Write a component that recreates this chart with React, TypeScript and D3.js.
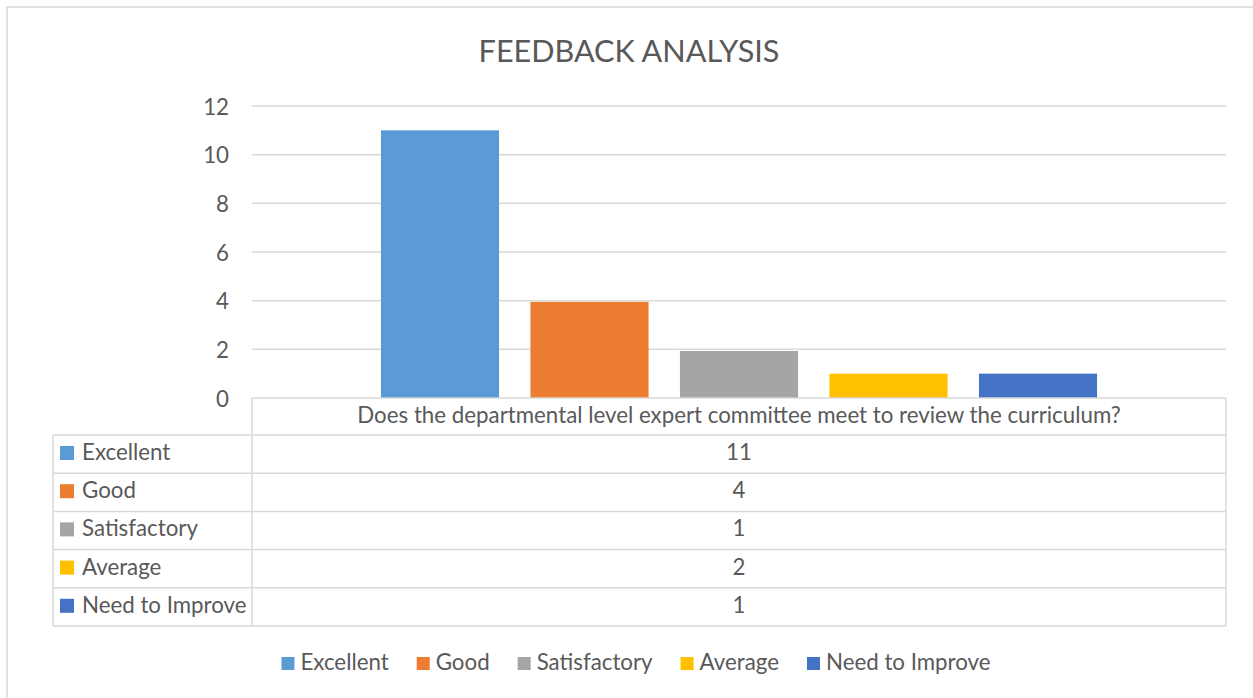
import React, { useEffect, useRef } from 'react';
import * as d3 from 'd3';

const title = 'FEEDBACK ANALYSIS';
const question = 'Does the departmental level expert committee meet to review the curriculum?';
const categories = ['Excellent', 'Good', 'Satisfactory', 'Average', 'Need to Improve'];
// bar heights as drawn in the chart
const barValues = [11, 3.95, 1.93, 1.0, 1.0];
// numbers printed in the data table (they differ from the bars in the original)
const tableValues = ['11', '4', '1', '2', '1'];
const colors = ['#5B9BD5', '#ED7D31', '#A5A5A5', '#FFC000', '#4472C4'];
const yTicks = [0, 2, 4, 6, 8, 10, 12];

const FONT = 'Lato, "Open Sans", sans-serif';
const FS = '22.3px';
const TEXT = '#595959';
const GRID = '#d9d9d9';

const App = () => {
  const svgRef = useRef<SVGSVGElement>(null);

  useEffect(() => {
    const W = 1253;
    const H = 698;
    const svg = d3.select(svgRef.current);
    svg.selectAll('*').remove();
    svg.attr('width', W).attr('height', H);

    const plot = { left: 252, right: 1226, top: 106, bottom: 398 };
    const tableLeft = 53;
    const headerH = 37;
    const rowH = 38.2;

    // outer chart border
    svg.append('rect')
      .attr('x', 7).attr('y', 7)
      .attr('width', W + 20).attr('height', H + 20)
      .attr('fill', '#fff').attr('stroke', GRID).attr('stroke-width', 1.5);

    svg.append('text')
      .attr('x', 629).attr('y', 62)
      .attr('text-anchor', 'middle')
      .style('font-family', FONT).style('font-size', '30.6px')
      .attr('fill', TEXT)
      .text(title);

    const y = d3.scaleLinear().domain([0, 12]).range([plot.bottom, plot.top]);

    // gridlines
    svg.append('g').selectAll('line')
      .data(yTicks.filter(t => t > 0))
      .join('line')
      .attr('x1', plot.left).attr('x2', plot.right)
      .attr('y1', d => y(d)).attr('y2', d => y(d))
      .attr('stroke', GRID).attr('stroke-width', 1.5);

    // tick labels
    svg.append('g').selectAll('text')
      .data(yTicks)
      .join('text')
      .attr('x', 229).attr('y', d => y(d) + 8.5)
      .attr('text-anchor', 'end')
      .style('font-family', FONT).style('font-size', FS)
      .attr('fill', TEXT)
      .text(d => d);

    // one category holding five series
    const x = d3.scaleBand()
      .domain(categories)
      .range([plot.left, plot.right])
      .paddingInner(0.21).paddingOuter(0.8625);

    svg.append('g').selectAll('rect')
      .data(categories)
      .join('rect')
      .attr('x', d => x(d)!)
      .attr('y', (d, i) => y(barValues[i]))
      .attr('width', x.bandwidth())
      .attr('height', (d, i) => y(0) - y(barValues[i]))
      .attr('fill', (d, i) => colors[i]);

    // data table
    const table = svg.append('g');
    const tableBottom = plot.bottom + headerH + rowH * categories.length;
    const line = (x1: number, y1: number, x2: number, y2: number) =>
      table.append('line')
        .attr('x1', x1).attr('y1', y1).attr('x2', x2).attr('y2', y2)
        .attr('stroke', GRID).attr('stroke-width', 1.5);

    line(plot.left, plot.bottom, plot.right, plot.bottom);
    line(plot.left, plot.bottom, plot.left, tableBottom);
    line(plot.right, plot.bottom, plot.right, tableBottom);
    line(tableLeft, plot.bottom + headerH, tableLeft, tableBottom);
    for (let i = 0; i <= categories.length; i++) {
      const yy = plot.bottom + headerH + i * rowH;
      line(tableLeft, yy, plot.right, yy);
    }

    const midX = (plot.left + plot.right) / 2;
    table.append('text')
      .attr('x', midX).attr('y', plot.bottom + 25)
      .attr('text-anchor', 'middle')
      .style('font-family', FONT).style('font-size', FS)
      .attr('fill', TEXT)
      .text(question);

    categories.forEach((c, i) => {
      const top = plot.bottom + headerH + i * rowH;
      table.append('rect')
        .attr('x', 60).attr('y', top + 11)
        .attr('width', 14).attr('height', 14)
        .attr('fill', colors[i]);
      table.append('text')
        .attr('x', 82).attr('y', top + 25)
        .style('font-family', FONT).style('font-size', FS)
        .attr('fill', TEXT)
        .text(c);
      table.append('text')
        .attr('x', midX).attr('y', top + 25)
        .attr('text-anchor', 'middle')
        .style('font-family', FONT).style('font-size', FS)
        .attr('fill', TEXT)
        .text(tableValues[i]);
    });

    // bottom legend, centred using measured text widths
    const legend = svg.append('g');
    const items = categories.map((c, i) => {
      const g = legend.append('g');
      g.append('rect').attr('width', 13).attr('height', 13).attr('y', -13).attr('fill', colors[i]);
      const t = g.append('text')
        .attr('x', 19).attr('y', 0)
        .style('font-family', FONT).style('font-size', FS)
        .attr('fill', TEXT)
        .text(c);
      const w = 19 + (t.node() as SVGTextElement).getComputedTextLength();
      return { g, w };
    });
    const gap = 28;
    const total = d3.sum(items, d => d.w) + gap * (items.length - 1);
    let cx = 636 - total / 2;
    items.forEach(({ g, w }) => {
      g.attr('transform', `translate(${cx},670)`);
      cx += w + gap;
    });
  }, []);

  return (
    <svg ref={svgRef} style={{ position: 'absolute', left: 0, top: 0, display: 'block' }}></svg>
  );
};

export default App;
